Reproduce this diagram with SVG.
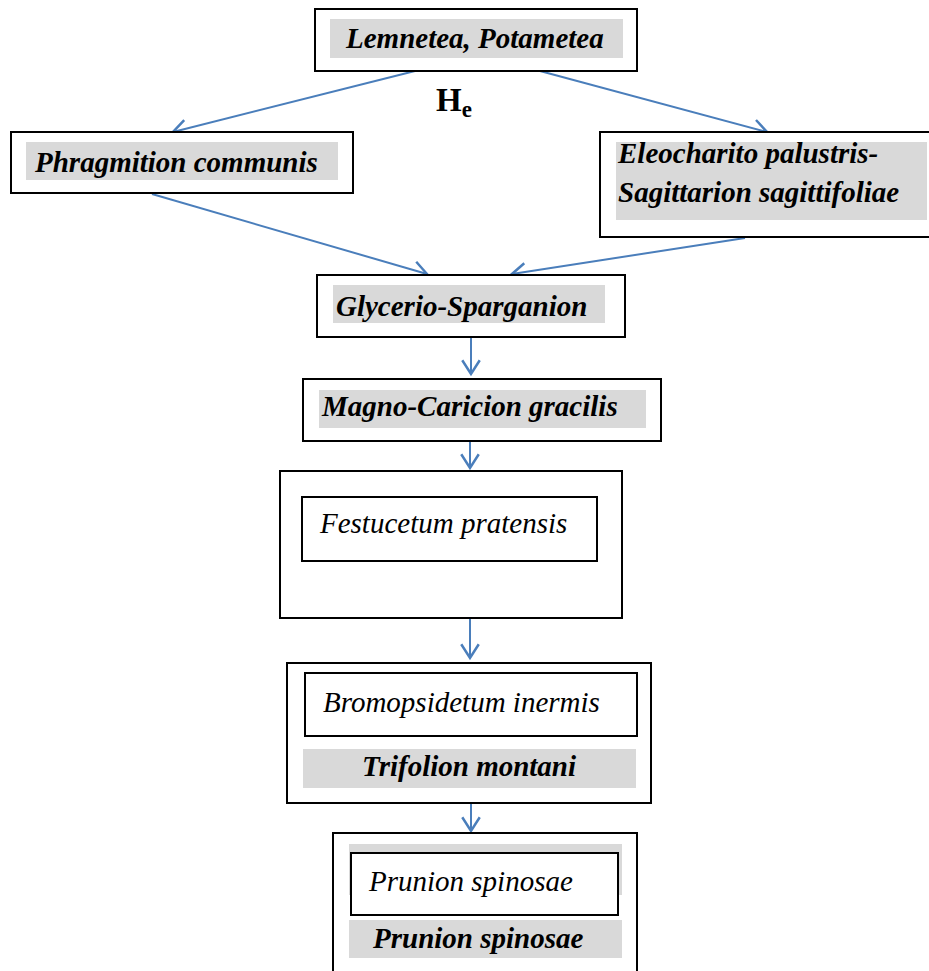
<svg xmlns="http://www.w3.org/2000/svg" width="929" height="971" viewBox="0 0 929 971">
<style>
.box{fill:#fff;stroke:#000;stroke-width:2}
.hl{fill:#d9d9d9;stroke:none}
.b{font-family:"Liberation Serif","Times New Roman",serif;font-size:29px;font-weight:bold;font-style:italic;fill:#000}
.r{font-family:"Liberation Serif","Times New Roman",serif;font-size:29px;font-style:italic;fill:#000}
.c{stroke:#4a7ebb;stroke-width:2;fill:none}
</style>
<defs>
<marker id="ah" markerUnits="userSpaceOnUse" markerWidth="20" markerHeight="20" refX="12" refY="8" orient="auto" viewBox="0 0 16 16">
<path d="M1,1 L12,8 L1,15" fill="none" stroke="#4a7ebb" stroke-width="2"/>
</marker>
</defs>
<rect width="929" height="971" fill="#fff"/>
<g id="connectors">
<line class="c" x1="415" y1="71" x2="173" y2="132" marker-end="url(#ah)"/>
<line class="c" x1="540" y1="71" x2="767" y2="132" marker-end="url(#ah)"/>
<line class="c" x1="152" y1="194" x2="427" y2="274" marker-end="url(#ah)"/>
<line class="c" x1="745" y1="238" x2="512" y2="274" marker-end="url(#ah)"/>
<line class="c" x1="471" y1="337" x2="471" y2="374" marker-end="url(#ah)"/>
<line class="c" x1="470" y1="441" x2="470" y2="468" marker-end="url(#ah)"/>
<line class="c" x1="470" y1="618" x2="470" y2="658" marker-end="url(#ah)"/>
<line class="c" x1="471" y1="803" x2="471" y2="831" marker-end="url(#ah)"/>
</g>
<g id="lemnetea">
<rect class="box" x="315" y="9" width="322" height="62"/>
<rect class="hl" x="330" y="19" width="293" height="39"/>
<text class="b" x="346" y="48">Lemnetea, Potametea</text>
</g>
<g id="he-label">
<text x="436" y="111" font-family="Liberation Serif, Times New Roman, serif" font-size="33" font-weight="bold">H<tspan font-size="23" dy="6">e</tspan></text>
</g>
<g id="phragmition">
<rect class="box" x="11" y="132" width="342" height="61"/>
<rect class="hl" x="26" y="142" width="312" height="38"/>
<text class="b" x="35" y="172">Phragmition communis</text>
</g>
<g id="eleocharito">
<rect class="box" x="600" y="132" width="340" height="105"/>
<rect class="hl" x="616" y="142" width="311" height="78"/>
<text class="b" x="618" y="163">Eleocharito palustris-</text>
<text class="b" x="618" y="202">Sagittarion sagittifoliae</text>
</g>
<g id="glycerio">
<rect class="box" x="317" y="275" width="308" height="62"/>
<rect class="hl" x="333" y="285" width="272" height="38"/>
<text class="b" x="336" y="316">Glycerio-Sparganion</text>
</g>
<g id="magno">
<rect class="box" x="303" y="379" width="358" height="62"/>
<rect class="hl" x="319" y="390" width="327" height="38"/>
<text class="b" x="322" y="416">Magno-Caricion gracilis</text>
</g>
<g id="festucetum">
<rect class="box" x="280" y="471" width="342" height="147"/>
<rect class="box" x="302" y="497" width="295" height="64"/>
<text class="r" x="320" y="533">Festucetum pratensis</text>
</g>
<g id="bromopsidetum">
<rect class="box" x="287" y="663" width="364" height="140"/>
<rect class="box" x="305" y="673" width="332" height="63"/>
<text class="r" x="323" y="712">Bromopsidetum inermis</text>
<rect class="hl" x="303" y="749" width="333" height="39"/>
<text class="b" x="362" y="776">Trifolion montani</text>
</g>
<g id="prunion">
<rect class="box" x="333" y="833" width="304" height="150"/>
<rect class="hl" x="349" y="844" width="273" height="51"/>
<rect class="box" x="351" y="853" width="267" height="62"/>
<text class="r" x="369" y="891">Prunion spinosae</text>
<rect class="hl" x="349" y="920" width="273" height="38"/>
<text class="b" x="373" y="948">Prunion spinosae</text>
</g>
</svg>
